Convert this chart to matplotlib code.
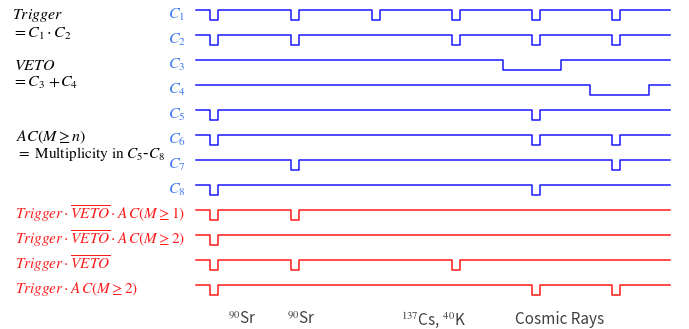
import matplotlib
matplotlib.use("Agg")
import matplotlib.pyplot as plt

plt.rcParams["mathtext.fontset"] = "stix"

# timing diagram: time axis in screen-like units
t_start, t_end = 196, 670
pulse_width = 8
depth = 10
row_gap = 25
first_row = 10

events = [210, 291, 372, 452, 532, 612]

# which events give a pulse in each counter
channels = ["C1", "C2", "C3", "C4", "C5", "C6", "C7", "C8"]
channel_hits = {
    "C1": [0, 1, 2, 3, 4, 5],
    "C2": [0, 1, 3, 4, 5],
    "C5": [0, 4],
    "C6": [0, 4, 5],
    "C7": [1, 5],
    "C8": [0, 4],
}
# veto counters give long windows
veto_windows = {
    "C3": (503, 561),
    "C4": (590, 649),
}

logic_labels = [
    r"$Trigger\cdot\overline{VETO}\cdot A\,C(M\geq 1)$",
    r"$Trigger\cdot\overline{VETO}\cdot A\,C(M\geq 2)$",
    r"$Trigger\cdot\overline{VETO}$",
    r"$Trigger\cdot A\,C(M\geq 2)$",
]

source_labels = [r"$^{90}$Sr", r"$^{90}$Sr", r"$^{137}$Cs, $^{40}$K", "Cosmic Rays"]
source_x = [242, 301, 433, 560]

BLUE = "#1a1aff"
LABEL_BLUE = "#3d78f2"
RED = "#ff1a1a"


def trace(lows):
    xs, ys = [t_start], [0]
    for a, b in lows:
        xs += [a, a, b, b]
        ys += [0, depth, depth, 0]
    xs.append(t_end)
    ys.append(0)
    return xs, ys


def in_veto(t):
    return any(a <= t <= b for a, b in veto_windows.values())


fig = plt.figure(figsize=(6.89, 3.29), dpi=100)
ax = fig.add_axes([0, 0, 1, 1])
ax.set_xlim(0, 689)
ax.set_ylim(329, 0)
ax.axis("off")

for i, ch in enumerate(channels):
    y0 = first_row + i * row_gap
    if ch in veto_windows:
        lows = [veto_windows[ch]]
    else:
        lows = [(events[k], events[k] + pulse_width) for k in channel_hits[ch]]
    xs, ys = trace(lows)
    ax.plot(xs, [y0 + v for v in ys], color=BLUE, lw=1.1)
    ax.text(177, y0 + 5, "$C_{%s}$" % ch[1:], color=LABEL_BLUE, fontsize=11.5,
            ha="center", va="center")

# logic outputs derived from the counters
hit = {ch: set(channel_hits.get(ch, [])) for ch in channels}
conds = []
for k, t in enumerate(events):
    trig = k in hit["C1"] and k in hit["C2"]
    veto = in_veto(t)
    mult = sum(k in hit[c] for c in ["C5", "C6", "C7", "C8"])
    conds.append([
        trig and not veto and mult >= 1,
        trig and not veto and mult >= 2,
        trig and not veto,
        trig and mult >= 2,
    ])

for j, lab in enumerate(logic_labels):
    y0 = first_row + (len(channels) + j) * row_gap
    lows = [(t, t + pulse_width) for k, t in enumerate(events) if conds[k][j]]
    xs, ys = trace(lows)
    ax.plot(xs, [y0 + v for v in ys], color=RED, lw=1.1)
    ax.text(15, y0 + 4, lab, color=RED, fontsize=11, ha="left", va="center")

# definitions on the left
ax.text(12, 16, r"$Trigger$", fontsize=11.5, va="center")
ax.text(12, 34, r"$= C_1\cdot C_2$", fontsize=11.5, va="center")
ax.text(14, 65, r"$VETO$", fontsize=11.5, va="center")
ax.text(12, 83, r"$= C_3\,+\!C_4$", fontsize=11.5, va="center")
ax.text(16, 137, r"$AC(M\geq n)$", fontsize=11.5, va="center")
ax.text(16, 154, r"$=\ \mathrm{Multiplicity\ in}\ C_5$-$C_8$", fontsize=11, va="center")

for x, s in zip(source_x, source_labels):
    ax.text(x, 320, s, fontsize=11, color="#404040", ha="center", va="center",
            family=["Noto Sans CJK JP", "DejaVu Sans"])

fig.savefig("out.png")
